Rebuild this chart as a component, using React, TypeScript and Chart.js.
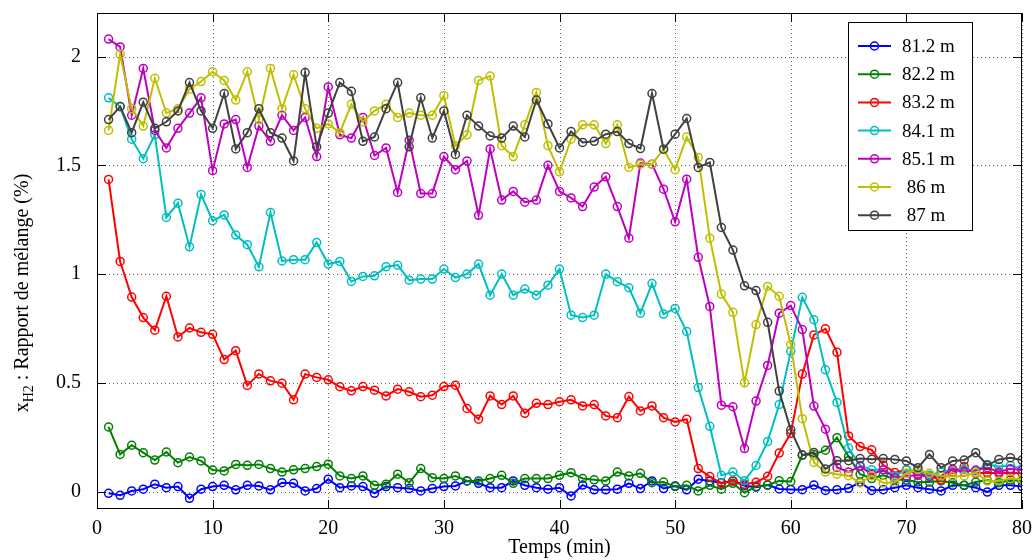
import React, { useEffect, useRef } from "react";
import { Chart, registerables } from "chart.js";
Chart.register(...registerables);

const times = [
  1, 2, 3, 4, 5, 6, 7, 8, 9, 10, 11, 12, 13, 14, 15, 16, 17, 18, 19, 20,
  21, 22, 23, 24, 25, 26, 27, 28, 29, 30, 31, 32, 33, 34, 35, 36, 37, 38, 39, 40,
  41, 42, 43, 44, 45, 46, 47, 48, 49, 50, 51, 52, 53, 54, 55, 56, 57, 58, 59, 60,
  61, 62, 63, 64, 65, 66, 67, 68, 69, 70, 71, 72, 73, 74, 75, 76, 77, 78, 79, 80,
];

const s812 = [
  -0.008, -0.017, 0.003, 0.011, 0.034, 0.018, 0.023, -0.031, 0.011, 0.023,
  0.029, 0.008, 0.029, 0.026, 0.008, 0.041, 0.038, 0.003, 0.014, 0.057,
  0.018, 0.026, 0.023, -0.008, 0.023, 0.018, 0.014, 0.003, 0.014, 0.023,
  0.026, 0.049, 0.038, 0.018, 0.018, 0.049, 0.029, 0.018, 0.011, 0.018,
  -0.02, 0.03, 0.008, 0.008, 0.011, 0.038, 0.014, 0.049, 0.014, 0.026,
  0.008, 0.057, 0.049, 0.041, 0.049, 0.027, 0.02, 0.03, 0.012, 0.01,
  0.009, 0.03, 0.005, 0.009, 0.015, 0.043, 0.005, 0.009, 0.018, 0.029,
  0.018, 0.011, 0.003, 0.029, 0.029, 0.018, -0.002, 0.029, 0.029, 0.023,
];
const s822 = [
  0.297, 0.171, 0.213, 0.179, 0.145, 0.182, 0.133, 0.159, 0.141, 0.099,
  0.095, 0.125, 0.121, 0.125, 0.106, 0.09, 0.1, 0.106, 0.115, 0.126,
  0.072, 0.06, 0.072, 0.029, 0.034, 0.08, 0.041, 0.106, 0.064, 0.06,
  0.072, 0.049, 0.049, 0.06, 0.075, 0.038, 0.06, 0.06, 0.06, 0.075,
  0.087, 0.06, 0.054, 0.049, 0.09, 0.072, 0.084, 0.041, 0.044, 0.023,
  0.029, 0.003, 0.029, 0.011, 0.038, -0.005, 0.024, 0.03, 0.05, 0.046,
  0.168, 0.17, 0.19, 0.248, 0.162, 0.08, 0.06, 0.075, 0.057, 0.053,
  0.044, 0.044, 0.049, 0.041, 0.029, 0.044, 0.053, 0.041, 0.053, 0.049,
];
const s832 = [
  1.435, 1.058, 0.894, 0.8, 0.742, 0.898, 0.711, 0.752, 0.732, 0.723,
  0.607, 0.648, 0.488, 0.541, 0.509, 0.498, 0.422, 0.54, 0.525, 0.514,
  0.482, 0.463, 0.483, 0.466, 0.44, 0.471, 0.459, 0.436, 0.443, 0.483,
  0.489, 0.382, 0.333, 0.44, 0.4, 0.44, 0.36, 0.406, 0.4, 0.413,
  0.422, 0.394, 0.4, 0.348, 0.34, 0.437, 0.371, 0.394, 0.34, 0.32,
  0.333, 0.106, 0.069, 0.038, 0.049, 0.034, 0.043, 0.07, 0.177, 0.268,
  0.54, 0.72, 0.748, 0.64, 0.256, 0.207, 0.192, 0.122, 0.088, 0.1,
  0.08, 0.072, 0.054, 0.09, 0.115, 0.084, 0.087, 0.084, 0.087, 0.084,
];
const s841 = [
  1.81, 1.77, 1.62, 1.53, 1.64, 1.26, 1.326, 1.125, 1.366, 1.245,
  1.272, 1.179, 1.135, 1.033, 1.283, 1.06, 1.066, 1.066, 1.145, 1.046,
  1.058, 0.966, 0.989, 0.992, 1.034, 1.041, 0.972, 0.977, 0.977, 1.023,
  0.984, 1.0, 1.046, 0.903, 1.0, 0.903, 0.931, 0.903, 0.949, 1.023,
  0.811, 0.8, 0.811, 1.0, 0.965, 0.937, 0.82, 0.956, 0.816, 0.842,
  0.736, 0.478, 0.3, 0.075, 0.09, 0.05, 0.12, 0.23, 0.4, 0.645,
  0.893, 0.79, 0.56, 0.41, 0.2, 0.12, 0.1, 0.1, 0.072, 0.1,
  0.095, 0.075, 0.09, 0.102, 0.102, 0.095, 0.125, 0.115, 0.12, 0.105,
];
const s851 = [
  2.08, 2.044, 1.73, 1.945, 1.66, 1.58, 1.67, 1.74, 1.81, 1.475,
  1.69, 1.71, 1.49, 1.68, 1.61, 1.73, 1.66, 1.72, 1.54, 1.86,
  1.64, 1.625, 1.72, 1.545, 1.58, 1.375, 1.615, 1.37, 1.37, 1.54,
  1.48, 1.52, 1.27, 1.575, 1.34, 1.38, 1.33, 1.34, 1.5, 1.38,
  1.35, 1.31, 1.4, 1.447, 1.31, 1.165, 1.51, 1.505, 1.39, 1.24,
  1.436, 1.077, 0.851, 0.397, 0.39, 0.198, 0.416, 0.58, 0.82, 0.855,
  0.745, 0.393, 0.287, 0.111, 0.09, 0.116, 0.08, 0.1, 0.064, 0.072,
  0.075, 0.069, 0.072, 0.102, 0.09, 0.099, 0.11, 0.09, 0.105, 0.099,
];
const s86 = [
  1.66, 2.01, 1.76, 1.68, 1.9, 1.74, 1.76, 1.85, 1.885, 1.93,
  1.89, 1.8, 1.93, 1.71, 1.945, 1.76, 1.916, 1.76, 1.67, 1.69,
  1.65, 1.78, 1.7, 1.75, 1.78, 1.72, 1.74, 1.73, 1.73, 1.82,
  1.59, 1.64, 1.89, 1.91, 1.59, 1.54, 1.686, 1.835, 1.59, 1.47,
  1.62, 1.686, 1.686, 1.6, 1.686, 1.49, 1.505, 1.505, 1.574, 1.48,
  1.63, 1.536, 1.165, 0.908, 0.824, 0.5, 0.768, 0.943, 0.898, 0.676,
  0.335, 0.134, 0.09, 0.08, 0.073, 0.04, 0.073, 0.04, 0.043, 0.084,
  0.102, 0.084, 0.072, 0.069, 0.072, 0.087, 0.049, 0.049, 0.06, 0.057,
];
const s87 = [
  1.71, 1.77, 1.65, 1.79, 1.67, 1.7, 1.75, 1.88, 1.75, 1.67,
  1.83, 1.575, 1.65, 1.76, 1.65, 1.625, 1.52, 1.926, 1.585, 1.74,
  1.88, 1.84, 1.61, 1.63, 1.76, 1.88, 1.585, 1.81, 1.625, 1.75,
  1.55, 1.73, 1.68, 1.635, 1.625, 1.68, 1.63, 1.8, 1.69, 1.58,
  1.655, 1.605, 1.61, 1.643, 1.655, 1.6, 1.577, 1.83, 1.574, 1.643,
  1.715, 1.49, 1.513, 1.214, 1.11, 0.946, 0.924, 0.778, 0.462, 0.284,
  0.168, 0.18, 0.104, 0.142, 0.142, 0.152, 0.149, 0.152, 0.148, 0.141,
  0.11, 0.171, 0.11, 0.141, 0.145, 0.179, 0.121, 0.148, 0.156, 0.145,
];

const seriesLabels = ["81.2 m", "82.2 m", "83.2 m", "84.1 m", "85.1 m", " 86 m", " 87 m"];
const seriesValues = [s812, s822, s832, s841, s851, s86, s87];
const seriesColors = ["#0000ff", "#008000", "#ff0000", "#00bfbf", "#bf00bf", "#bfbf00", "#404040"];

const xTicks = [0, 10, 20, 30, 40, 50, 60, 70, 80];
const yTicks = [0, 0.5, 1, 1.5, 2];
const xTitle = "Temps (min)";
const yTitleMain = "x";
const yTitleSub = "H2";
const yTitleRest = " : Rapport de mélange (%)";

const FONT = '"Liberation Serif", "Times New Roman", serif';

const gridPlugin = {
  id: "dottedGrid",
  beforeDatasetsDraw(chart: any) {
    const ctx = chart.ctx;
    const a = chart.chartArea;
    const xs = chart.scales.x;
    const ys = chart.scales.y;
    ctx.save();
    ctx.strokeStyle = "rgba(0,0,0,0.6)";
    ctx.lineWidth = 1;
    ctx.setLineDash([1, 3]);
    ctx.beginPath();
    xTicks.forEach((v) => {
      const px = Math.round(xs.getPixelForValue(v)) + 0.5;
      ctx.moveTo(px, a.top);
      ctx.lineTo(px, a.bottom);
    });
    yTicks.forEach((v) => {
      const py = Math.round(ys.getPixelForValue(v)) + 0.5;
      ctx.moveTo(a.left, py);
      ctx.lineTo(a.right, py);
    });
    ctx.stroke();
    ctx.restore();
  },
};

const decorPlugin = {
  id: "decor",
  afterDraw(chart: any) {
    const ctx = chart.ctx;
    const a = chart.chartArea;
    const xs = chart.scales.x;
    const ys = chart.scales.y;
    ctx.save();
    ctx.strokeStyle = "#000";
    ctx.lineWidth = 1;
    ctx.setLineDash([]);
    ctx.strokeRect(a.left + 0.5, a.top + 0.5, a.right - a.left - 1, a.bottom - a.top - 1);
    const tl = 9;
    ctx.beginPath();
    xTicks.forEach((v) => {
      const px = Math.round(xs.getPixelForValue(v)) + 0.5;
      ctx.moveTo(px, a.bottom);
      ctx.lineTo(px, a.bottom - tl);
      ctx.moveTo(px, a.top);
      ctx.lineTo(px, a.top + tl);
    });
    yTicks.forEach((v) => {
      const py = Math.round(ys.getPixelForValue(v)) + 0.5;
      ctx.moveTo(a.left, py);
      ctx.lineTo(a.left + tl, py);
      ctx.moveTo(a.right, py);
      ctx.lineTo(a.right - tl, py);
    });
    ctx.stroke();

    ctx.fillStyle = "#000";
    ctx.font = `20px ${FONT}`;
    ctx.textAlign = "center";
    ctx.textBaseline = "middle";
    ctx.fillText(xTitle, (a.left + a.right) / 2, 548);

    ctx.save();
    ctx.translate(22, 293);
    ctx.rotate(-Math.PI / 2);
    const mainFont = `20px ${FONT}`;
    const subFont = `14px ${FONT}`;
    ctx.font = mainFont;
    const w1 = ctx.measureText(yTitleMain).width;
    const w3 = ctx.measureText(yTitleRest).width;
    ctx.font = subFont;
    const w2 = ctx.measureText(yTitleSub).width;
    const total = w1 + w2 + w3;
    let x0 = -total / 2;
    ctx.textAlign = "left";
    ctx.textBaseline = "alphabetic";
    ctx.font = mainFont;
    ctx.fillText(yTitleMain, x0, 6);
    x0 += w1;
    ctx.font = subFont;
    ctx.fillText(yTitleSub, x0, 11);
    x0 += w2;
    ctx.font = mainFont;
    ctx.fillText(yTitleRest, x0, 6);
    ctx.restore();

    const lx = 848, ly = 22, lw = 124, lh = 208;
    ctx.fillStyle = "#fff";
    ctx.fillRect(lx, ly, lw, lh);
    ctx.strokeStyle = "#000";
    ctx.lineWidth = 1;
    ctx.strokeRect(lx + 0.5, ly + 0.5, lw, lh);
    seriesLabels.forEach((lab, i) => {
      const y = 46 + i * 28.2;
      ctx.strokeStyle = seriesColors[i];
      ctx.lineWidth = 2;
      ctx.beginPath();
      ctx.moveTo(858, y);
      ctx.lineTo(891, y);
      ctx.stroke();
      ctx.beginPath();
      ctx.lineWidth = 1.5;
      ctx.arc(874.5, y, 4, 0, Math.PI * 2);
      ctx.stroke();
      ctx.fillStyle = "#000";
      ctx.font = `19px ${FONT}`;
      ctx.textAlign = "left";
      ctx.textBaseline = "middle";
      ctx.fillText(lab, 902, y + 1);
    });
    ctx.restore();
  },
};

function zeroPad(s: any) {
  s.paddingTop = 0;
  s.paddingBottom = 0;
  s.paddingLeft = 0;
  s.paddingRight = 0;
}

export default function App() {
  const ref = useRef<HTMLCanvasElement | null>(null);
  useEffect(() => {
    if (!ref.current) return;
    const datasets = seriesValues.map((vals, i) => ({
      label: seriesLabels[i],
      data: vals.map((v, j) => ({ x: times[j], y: v })),
      borderColor: seriesColors[i],
      backgroundColor: "rgba(0,0,0,0)",
      pointBorderColor: seriesColors[i],
      pointBackgroundColor: "rgba(0,0,0,0)",
      borderWidth: 2,
      pointRadius: 4,
      pointBorderWidth: 1.5,
      pointStyle: "circle",
      tension: 0,
      order: seriesValues.length - i,
    }));
    const chart = new Chart(ref.current, {
      type: "line",
      data: { datasets },
      options: {
        animation: false,
        responsive: false,
        maintainAspectRatio: false,
        layout: { padding: { left: 0, top: 13, right: 13, bottom: 0 } },
        plugins: { legend: { display: false }, tooltip: { enabled: false } },
        scales: {
          x: {
            type: "linear",
            min: 0,
            max: 80,
            afterFit: (s: any) => { s.height = 51; zeroPad(s); },
            afterBuildTicks: (s: any) => { s.ticks = xTicks.map((v) => ({ value: v })); },
            grid: { display: false },
            border: { display: false },
            ticks: { color: "#000", font: { family: FONT, size: 20 }, padding: 0, maxRotation: 0 },
          },
          y: {
            type: "linear",
            min: -0.08,
            max: 2.2,
            afterFit: (s: any) => { s.width = 97; zeroPad(s); },
            afterBuildTicks: (s: any) => { s.ticks = yTicks.map((v) => ({ value: v })); },
            grid: { display: false },
            border: { display: false },
            ticks: {
              color: "#000",
              font: { family: FONT, size: 20 },
              padding: 8,
              callback: (v: any) => String(v),
            },
          },
        },
      },
      plugins: [gridPlugin, decorPlugin],
    });
    return () => chart.destroy();
  }, []);
  return (
    <div style={{ position: "absolute", left: 0, top: 0, width: 1035, height: 560, background: "#fff" }}>
      <canvas ref={ref} width={1035} height={560} style={{ width: 1035, height: 560 }} />
    </div>
  );
}
